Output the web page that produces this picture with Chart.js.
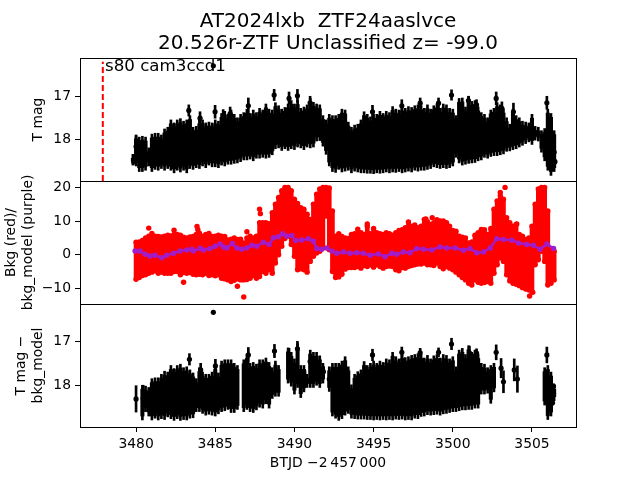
<!DOCTYPE html>
<html>
<head>
<meta charset="utf-8">
<style>
  html, body { margin: 0; padding: 0; background: #fff; }
  canvas { display: block; }
</style>
<script src="https://cdn.jsdelivr.net/npm/chart.js@4/dist/chart.umd.js"></script>
</head>
<body>
<canvas id="myChart" width="640" height="480"></canvas>
<script>
// time columns shared by the three panels (BTJD - 2457000)
const binT = [
  3479.8, 3480.0, 3480.2, 3480.4, 3480.6, 3480.8, 3481.0, 3481.2, 3481.4, 3481.6,
  3481.8, 3482.0, 3482.2, 3482.4, 3482.6, 3482.8, 3483.0, 3483.2, 3483.4, 3483.6,
  3483.8, 3484.0, 3484.2, 3484.4, 3484.6, 3484.8, 3485.0, 3485.2, 3485.4, 3485.6,
  3485.8, 3486.0, 3486.2, 3486.4, 3486.6, 3486.8, 3487.0, 3487.2, 3487.4, 3487.6,
  3487.8, 3488.0, 3488.2, 3488.4, 3488.6, 3488.8, 3489.0, 3489.2, 3489.4, 3489.6,
  3489.8, 3490.0, 3490.2, 3490.4, 3490.6, 3490.8, 3491.0, 3491.2, 3491.4, 3491.6,
  3491.8, 3492.0, 3492.2, 3492.4, 3492.6, 3492.8, 3493.0, 3493.2, 3493.4, 3493.6,
  3493.8, 3494.0, 3494.2, 3494.4, 3494.6, 3494.8, 3495.0, 3495.2, 3495.4, 3495.6,
  3495.8, 3496.0, 3496.2, 3496.4, 3496.6, 3496.8, 3497.0, 3497.2, 3497.4, 3497.6,
  3497.8, 3498.0, 3498.2, 3498.4, 3498.6, 3498.8, 3499.0, 3499.2, 3499.4, 3499.6,
  3499.8, 3500.0, 3500.2, 3500.4, 3500.6, 3500.8, 3501.0, 3501.2, 3501.4, 3501.6,
  3501.8, 3502.0, 3502.2, 3502.4, 3502.6, 3502.8, 3503.0, 3503.2, 3503.4, 3503.6,
  3503.8, 3504.0, 3504.2, 3504.4, 3504.6, 3504.8, 3505.0, 3505.2, 3505.4, 3505.6,
  3505.8, 3506.0, 3506.2, 3506.4
];

// top panel, T mag: faint and bright edge of the error bars in each column
const magHi = [
  18.35, 17.9, 17.95, 17.93, 17.95, 18.2, 17.88, 17.86, 17.86, 17.9,
  17.76, 17.72, 17.55, 17.62, 17.55, 17.52, 17.58, 17.55, 17.45, 17.72,
  17.7, 17.55, 17.55, 17.62, 17.6, 17.62, 17.55, 17.58, 17.4, 17.35,
  17.42, 17.32, 17.42, 17.5, 17.42, 17.38, 17.3, 17.4, 17.32, 17.38,
  17.28, 17.32, 17.18, 17.3, 17.32, 17.15, 17.22, 17.3, 17.26, 17.18,
  17.1, 17.18, 17.1, 17.28, 17.25, 17.2, 17.05, 17.14, 17.18, 17.2,
  17.45, 17.55, 17.42, 17.45, 17.45, 17.42, 17.3, 17.32, 17.6, 17.72,
  17.67, 17.65, 17.55, 17.36, 17.42, 17.48, 17.42, 17.42, 17.35, 17.4,
  17.35, 17.38, 17.24, 17.3, 17.32, 17.25, 17.28, 17.24, 17.26, 17.22,
  17.2, 17.22, 17.28, 17.2, 17.3, 17.22, 17.18, 17.28, 17.18, 17.2,
  17.28, 17.3, 17.45, 17.05, 17.04, 17.25, 17.0, 17.12, 17.1, 17.25,
  17.38, 17.42, 17.5, 17.32, 17.28, 17.15, 17.2, 17.3, 17.5, 17.65,
  17.3, 17.45, 17.5, 17.58, 17.6, 17.62, 17.42, 17.7, 17.72, 17.8,
  17.75, 17.3, 17.4, 17.8
];
const magLo = [
  18.6, 18.62, 18.75, 18.75, 18.72, 18.62, 18.75, 18.7, 18.72, 18.68,
  18.72, 18.68, 18.72, 18.78, 18.72, 18.76, 18.72, 18.78, 18.68, 18.7,
  18.66, 18.68, 18.62, 18.66, 18.6, 18.64, 18.64, 18.66, 18.6, 18.62,
  18.58, 18.58, 18.56, 18.55, 18.52, 18.48, 18.48, 18.46, 18.5, 18.44,
  18.44, 18.42, 18.44, 18.42, 18.36, 18.22, 18.2, 18.26, 18.22, 18.26,
  18.22, 18.24, 18.18, 18.2, 18.24, 18.18, 18.2, 18.18, 18.04, 18.03,
  18.16, 18.35, 18.62, 18.75, 18.77, 18.7, 18.76, 18.74, 18.72, 18.78,
  18.74, 18.76, 18.78, 18.78, 18.79, 18.79, 18.8, 18.78, 18.79, 18.78,
  18.76, 18.78, 18.76, 18.77, 18.75, 18.78, 18.76, 18.74, 18.76, 18.72,
  18.74, 18.72, 18.72, 18.7, 18.68, 18.64, 18.66, 18.68, 18.66, 18.68,
  18.66, 18.62, 18.42, 18.55, 18.6, 18.58, 18.56, 18.55, 18.54, 18.5,
  18.48, 18.42, 18.44, 18.4, 18.38, 18.38, 18.36, 18.34, 18.28, 18.27,
  18.24, 18.22, 18.18, 18.14, 18.1, 18.06, 18.12, 18.02, 18.04, 18.3,
  18.5, 18.72, 18.84, 18.75
];
// top panel, single points that stick out of the band
const magPtT = [3479.85, 3480.0, 3483.33, 3484.04, 3484.88, 3484.99, 3485.5, 3485.94, 3487.09, 3488.72, 3489.66, 3490.19, 3490.99,
  3494.93, 3496.78, 3497.94, 3499.1, 3499.92, 3500.99, 3501.5, 3502.74, 3503.1, 3503.83, 3505.94, 3506.4, 3506.45];
const magPt = [18.52, 18.17, 17.33, 17.51, 16.29, 17.36, 17.51, 17.4, 17.22, 16.97, 17.05, 16.99, 17.15,
  17.36, 17.22, 17.16, 17.16, 16.97, 17.1, 17.2, 17.05, 17.28, 17.36, 17.15, 18.3, 18.52];
const magPtErr = [0.05, 0.25, 0.13, 0.15, 0.03, 0.15, 0.2, 0.15, 0.18, 0.13, 0.15, 0.15, 0.15,
  0.15, 0.14, 0.12, 0.12, 0.12, 0.1, 0.12, 0.15, 0.15, 0.2, 0.15, 0.2, 0.05];

// middle panel, background flux: red band edges in each column
const bkgHi = [
  null, 3.7, 3.8, 4.2, 5.0, 5.5, 6.3, 5.5, 5.4, 5.3,
  5.5, 5.8, 5.6, 6.0, 6.0, 5.8, 5.2, 5.0, 5.3, 5.4,
  6.0, 6.4, 5.5, 6.0, 6.3, 5.4, 5.5, 5.8, 5.5, 5.4,
  4.4, 4.6, 5.0, 4.5, 4.6, 3.5, 5.0, 5.5, 5.0, 5.5,
  9.5, 9.5, 9.5, 9.2, 12.5, 15, 17, 19, 20, 20,
  19, 16.5, 15.2, 14, 13.5, 12, 10.5, 15, 18, 19.5,
  20, 20, 19.8, 13, 5.5, 6.2, 5.4, 5, 4.8, 6,
  6.2, 7.6, 6.5, 6, 8.5, 6.2, 7.8, 6.5, 6.2, 6,
  6.5, 6.2, 5.8, 6.5, 7.2, 7.4, 8, 9.7, 8.5, 8.8,
  8, 8.5, 10.5, 9.8, 9, 9.5, 9.8, 10, 10, 9.5,
  8.5, 7.2, 7, 5.5, 5.2, 5, 3.5, 3.8, 5.8, 6.5,
  7.5, 7.4, 6, 7.8, 13.5, 16, 17.5, 16.5, 11, 9.5,
  8.5, 9, 6, 5.5, 4.5, 5, 8.5, 15, 19.5, 20,
  20, 13, 1.5, 1
];
const bkgLo = [
  null, -7.3, -6.8, -6.2, -6.0, -5.5, -5.2, -4.8, -5.5, -5.2,
  -5.5, -5.5, -5.5, -5.0, -5.0, -6.0, -5.3, -5.5, -5.3, -5.8,
  -6, -5.8, -6, -5.5, -6.2, -6, -6.3, -6, -7, -7.2,
  -7.5, -8, -7.6, -7.2, -7.5, -7.5, -7.4, -7, -6.2, -7,
  -6.5, -5, -5.5, -4.5, -5.5, -2.5, 0, 2.5, 4.8, 5.5,
  3, -0.5, -4.5, -4.2, -4.5, -5.2, -2, -0.5, 0.5, 1,
  2, 11.5, 1.5, -5, -6.8, -6.6, -5.8, -4.3, -3.8, -3.8,
  -3.8, -3.5, -4, -3.2, -3.5, -3, -3.7, -3, -3.5, -4,
  -3.5, -3.4, -3.5, -4.5, -4.8, -3.8, -4, -3.5, -3.2, -3,
  -2.8, -2.8, -2.5, -3, -3, -3.2, -2.5, -3.5, -4.2, -3.5,
  -4, -4.5, -5.2, -6, -6.8, -7.5, -8.5, -9, -7.5, -8.2,
  -8.5, -8.3, -8, -8.5, -5.5, -3, -1, -2, -6, -7.8,
  -8.5, -8.8, -9.2, -9.8, -10.2, -10.5, -11, -3, -1.5, 1,
  -2, -9, -8.5, -7.5
];
// middle panel, red points outside the band
const bkgPtT = [3480.8, 3482.4, 3483.0, 3483.85, 3483.9, 3486.4, 3486.8, 3487.0, 3487.8, 3487.85, 3494.6, 3498.3, 3498.7, 3499.0, 3503.0, 3503.3, 3504.04, 3504.85, 3505.05];
const bkgPt = [7.9, 7.25, -8.2, 8.4, 7.4, -9.4, -12.6, 6.8, 13.5, 12.2, 9.1, 10.6, 11, 10.4, 18.5, 20, 9.1, -12.3, -11.2];

// middle panel, purple model
const modelT = [3479.94, 3480.25, 3480.57, 3480.88, 3481.2, 3481.62, 3481.94, 3482.36, 3482.78, 3483.2, 3483.52, 3483.62, 3484.04, 3484.25, 3484.67, 3484.99,
  3485.31, 3485.52, 3485.73, 3486.08, 3486.36, 3486.67, 3486.99, 3487.31, 3487.62, 3488.04, 3488.4, 3488.67, 3488.99, 3489.26, 3489.52, 3489.83,
  3490.08, 3490.46, 3490.88, 3491.2, 3491.41, 3491.73, 3492.04, 3492.36, 3492.67, 3493.09, 3493.51, 3493.94, 3494.36, 3494.78, 3495.3, 3495.72,
  3496.15, 3496.46, 3496.88, 3497.3, 3497.73, 3498.15, 3498.67, 3499.2, 3499.62, 3500.15, 3500.67, 3501.09, 3501.51, 3501.94, 3502.36, 3502.78,
  3503.2, 3503.73, 3504.15, 3504.67, 3505.09, 3505.51, 3505.94, 3506.36];
const modelV = [1.1, 1.1, 0.1, -0.4, -0.2, -0.9, -0.2, 0.4, 1.1, 1.4, 1.6, 1.1, 1.9, 1.4, 1.8, 2.5,
  3.2, 2.3, 2.0, 3.3, 2.0, 1.6, 2.0, 2.8, 2.5, 3.7, 3.0, 5.0, 5.3, 6.2, 5.5, 5.7,
  4.2, 4.4, 4.7, 4.0, 1.8, 1.6, 2.0, 1.1, 0.4, 0.8, 0.4, 0.6, 0.4, -0.2, 0.2, -0.6,
  0.4, 0.1, 0.8, 0.6, 1.8, 1.6, 1.4, 2.3, 2.0, 2.0, 1.3, 1.8, 0.6, 0.8, 2.0, 4.7,
  4.5, 4.3, 3.5, 3.0, 2.8, 1.6, 3.2, 1.8];

// bottom panel, T mag minus background model
const subHi = [
  null, null, null, 18.0, 18.02, 18.05, 17.85, 17.83, 17.83, 17.75,
  17.68, 17.7, 17.55, 17.62, 17.55, 17.52, 17.6, 17.58, 17.65, 17.72,
  17.85, 17.6, 17.7, 17.75, 17.75, 17.7, 17.55, 17.72, 17.45, 17.42,
  17.42, 17.42, 17.5, 17.55, null, 17.42, 17.3, 17.5, 17.48, 17.52,
  17.42, 17.42, 17.38, 17.48, 17.6, 17.45, 17.55, null, null, 17.15,
  17.25, 17.4, 17.05, 17.55, 17.55, 17.75, 17.2, 17.25, 17.25, 17.33,
  17.5, null, 17.58, 17.5, 17.5, 17.5, 17.45, 17.35, 17.58, 17.99,
  17.75, 17.69, 17.65, 17.46, 17.55, 17.5, 17.45, 17.5, 17.45, 17.48,
  17.4, 17.42, 17.25, 17.35, 17.4, 17.3, 17.37, 17.35, 17.32, 17.3,
  17.28, 17.3, 17.38, 17.32, 17.4, 17.33, 17.3, 17.38, 17.3, 17.32,
  17.4, 17.35, 17.58, 17.2, 17.16, 17.3, 17.1, 17.25, 17.2, 17.3,
  17.5, 17.52, 17.6, 17.55, 17.5, null, null, null, null, null,
  null, null, null, null, null, null, null, null, null, null,
  17.6, 17.55, 17.7, 18.0
];
const subLo = [
  null, null, null, 18.79, 18.6, 18.7, 18.79, 18.75, 18.79, 18.76,
  18.78, 18.72, 18.76, 18.8, 18.76, 18.8, 18.78, 18.79, 18.75, 18.74,
  18.6, 18.6, 18.64, 18.68, 18.66, 18.68, 18.7, 18.65, 18.6, 18.58,
  18.55, 18.62, 18.62, 18.55, null, 18.6, 18.55, 18.6, 18.62, 18.56,
  18.5, 18.52, 18.42, 18.52, 18.3, 18.25, 18.25, null, null, 17.95,
  18.02, 18.2, 18.05, 18.28, 18.15, 18.05, 18.05, 18.05, 18.0, 18.05,
  17.95, null, 18.14, 18.7, 18.75, 18.8, 18.76, 18.68, 18.64, 18.75,
  18.76, 18.77, 18.77, 18.77, 18.78, 18.78, 18.79, 18.78, 18.79, 18.78,
  18.79, 18.78, 18.79, 18.77, 18.78, 18.77, 18.79, 18.78, 18.79, 18.75,
  18.76, 18.71, 18.7, 18.67, 18.68, 18.67, 18.66, 18.68, 18.65, 18.64,
  18.62, 18.6, 18.6, 18.58, 18.56, 18.56, 18.55, 18.55, 18.52, 18.52,
  18.2, 18.2, 18.18, 18.41, 18.15, null, null, null, null, null,
  null, null, null, null, null, null, null, null, null, null,
  18.45, 18.78, 18.7, 18.35
];
const subPtT = [3480.0, 3480.45, 3483.37, 3484.08, 3484.88, 3485.01, 3485.52, 3487.09, 3488.74, 3488.93, 3489.66, 3490.19, 3490.67, 3490.99, 3491.83, 3492.2,
  3494.93, 3496.78, 3497.94, 3499.1, 3499.92, 3501.05, 3501.5, 3502.74, 3503.05, 3503.2, 3503.88, 3504.08, 3505.94, 3506.36, 3506.36, 3506.3];
const subPt = [18.31, 18.3, 17.41, 17.65, 16.34, 17.56, 17.74, 17.31, 17.22, 17.9, 17.36, 17.17, 17.82, 17.46, 17.69, 17.86,
  17.31, 17.25, 17.26, 17.25, 17.06, 17.26, 17.27, 17.25, 17.61, 17.92, 17.65, 17.86, 17.31, 18.02, 18.18, 18.4];
const subPtErr = [0.3, 0.3, 0.13, 0.15, 0.03, 0.15, 0.2, 0.17, 0.15, 0.2, 0.2, 0.17, 0.15, 0.15, 0.12, 0.08,
  0.13, 0.12, 0.1, 0.1, 0.13, 0.15, 0.1, 0.17, 0.22, 0.25, 0.25, 0.3, 0.18, 0.05, 0.05, 0.05];

const xTicks = [3480, 3485, 3490, 3495, 3500, 3505];
const magTicks = [17, 18];
const bkgTicks = [20, 10, 0, -10];
const markT = [3477.9, 3477.9];
const markMag = [18.97, 16.2];

const titleLines = ['AT2024lxb  ZTF24aaslvce', '20.526r-ZTF Unclassified z= -99.0'];
const sectorNote = 's80 cam3ccd1';
const fontName = '"DejaVu Sans"';

// pairs up columns and skips the empty ones
function bandData(hi, lo) {
  let out = [];
  for (let i = 0; i < binT.length; i++) {
    if (hi[i] !== null) {
      out.push({x: binT[i], y: [hi[i], lo[i]]});
    }
  }
  return out;
}

// the solid inner part of a band, the ends stay thin like single error bars
function coreData(hi, lo, inset) {
  let out = [];
  for (let i = 0; i < binT.length; i++) {
    if (hi[i] !== null && lo[i] - hi[i] > inset * 2) {
      out.push({x: binT[i], y: [hi[i] + inset, lo[i] - inset]});
    }
  }
  return out;
}

function stemData(ts, vals, errs) {
  return ts.map((t, i) => ({x: t, y: [vals[i] - errs[i], vals[i] + errs[i]]}));
}

function pointData(ts, vals) {
  return ts.map((t, i) => ({x: t, y: vals[i]}));
}

// red band ends so the band keeps the round edge of the markers
function bkgEdges() {
  let out = pointData(bkgPtT, bkgPt);
  for (let i = 0; i < binT.length; i++) {
    if (bkgHi[i] !== null) {
      out.push({x: binT[i], y: bkgHi[i]});
      out.push({x: binT[i], y: bkgLo[i]});
    }
  }
  return out;
}

function barSet(data, axis, color, thick) {
  return {type: 'bar', data: data, yAxisID: axis, backgroundColor: color, borderWidth: 0, barThickness: thick, grouped: false, order: 3};
}

function dotSet(data, axis, color, radius) {
  return {type: 'scatter', data: data, yAxisID: axis, backgroundColor: color, borderWidth: 0, pointRadius: radius, pointHoverRadius: radius, showLine: false, order: 2};
}

function yAxis(min, max, reverse, ticks, title, titlePad, weight) {
  return {
    type: 'linear', position: 'left', stack: 'panels', stackWeight: 1, weight: weight,
    min: min, max: max, reverse: reverse,
    afterFit: s => { s.width = 80; },
    afterBuildTicks: s => { s.ticks = ticks.map(v => ({value: v})); },
    grid: {drawOnChartArea: false, drawTicks: true, tickLength: 5, tickColor: '#000', tickWidth: 1},
    border: {display: false},
    ticks: {color: '#000', padding: 4, font: {family: fontName, size: 13.9},
      callback: v => String(v).replace('-', '\u2212')},
    title: {display: true, text: title, color: '#000', padding: {top: titlePad, bottom: 0},
      font: {family: fontName, size: 13.9, lineHeight: 1.2}}
  };
}

// frame round each panel and the sector note
const panelFrames = {
  id: 'panelFrames',
  afterDraw(chart) {
    const ctx = chart.ctx, area = chart.chartArea;
    ctx.save();
    ctx.strokeStyle = '#000';
    ctx.lineWidth = 1;
    for (const id of ['yMag', 'yBkg', 'ySub']) {
      const s = chart.scales[id];
      ctx.strokeRect(Math.round(area.left) + 0.5, Math.round(s.top) + 0.5, Math.round(area.width), Math.round(s.bottom - s.top));
    }
    ctx.fillStyle = '#000';
    ctx.font = '16.67px ' + fontName;
    ctx.textAlign = 'left';
    ctx.textBaseline = 'alphabetic';
    ctx.fillText(sectorNote, chart.scales.x.getPixelForValue(3478.04), chart.scales.yMag.getPixelForValue(16.41));
    ctx.restore();
  }
};

const chart = new Chart(document.getElementById('myChart'), {
  type: 'bar',
  data: {
    datasets: [
      barSet(bandData(magHi, magLo), 'yMag', '#000', 2),
      barSet(coreData(magHi, magLo, 0.09), 'yMag', '#000', 3.4),
      barSet(stemData(magPtT, magPt, magPtErr), 'yMag', '#000', 2),
      dotSet(pointData(magPtT, magPt), 'yMag', '#000', 2.6),
      {type: 'line', data: pointData(markT, markMag), yAxisID: 'yMag', borderColor: '#f00', borderWidth: 2, borderDash: [6, 3], pointRadius: 0, fill: false, order: 1},
      barSet(bandData(bkgHi, bkgLo), 'yBkg', '#f00', 4),
      dotSet(bkgEdges(), 'yBkg', '#f00', 2.7),
      {type: 'line', data: pointData(modelT, modelV), yAxisID: 'yBkg', borderColor: '#a31cc9', backgroundColor: '#a31cc9', borderWidth: 2.5, pointRadius: 1.5, borderJoinStyle: 'round', tension: 0, fill: false, order: 1},
      barSet(bandData(subHi, subLo), 'ySub', '#000', 2),
      barSet(coreData(subHi, subLo, 0.09), 'ySub', '#000', 3.4),
      barSet(stemData(subPtT, subPt, subPtErr), 'ySub', '#000', 2),
      dotSet(pointData(subPtT, subPt), 'ySub', '#000', 2.6)
    ]
  },
  options: {
    responsive: false,
    animation: false,
    layout: {padding: {left: 0, right: 64, top: 0, bottom: 0}},
    plugins: {
      legend: {display: false},
      tooltip: {enabled: false},
      title: {display: true, text: titleLines, color: '#000', fullSize: false,
        font: {family: fontName, size: 20, weight: 'normal', lineHeight: 1.1},
        padding: {top: 11, bottom: 3}}
    },
    scales: {
      x: {
        type: 'linear', min: 3476.46, max: 3507.78, offset: false,
        afterFit: s => { s.height = 53; },
        afterBuildTicks: s => { s.ticks = xTicks.map(v => ({value: v})); },
        grid: {offset: false, drawOnChartArea: false, drawTicks: true, tickLength: 5, tickColor: '#000', tickWidth: 1},
        border: {display: false},
        ticks: {color: '#000', padding: 4, maxRotation: 0, font: {family: fontName, size: 13.9}, callback: v => String(v)},
        title: {display: true, text: 'BTJD \u22122\u2009457\u2009000', color: '#000', padding: {top: 0, bottom: 8.7},
          font: {family: fontName, size: 13.9, lineHeight: 1.2}}
      },
      yMag: yAxis(16.11, 18.97, true, magTicks, 'T mag', 30, 3),
      yBkg: yAxis(-14.66, 21.9, false, bkgTicks, ['Bkg (red)/', 'bkg_model (purple)'], 3, 2),
      ySub: yAxis(16.15, 18.95, true, magTicks, ['T mag \u2212', 'bkg_model'], 13.5, 1)
    }
  },
  plugins: [panelFrames]
});
</script>
</body>
</html>
